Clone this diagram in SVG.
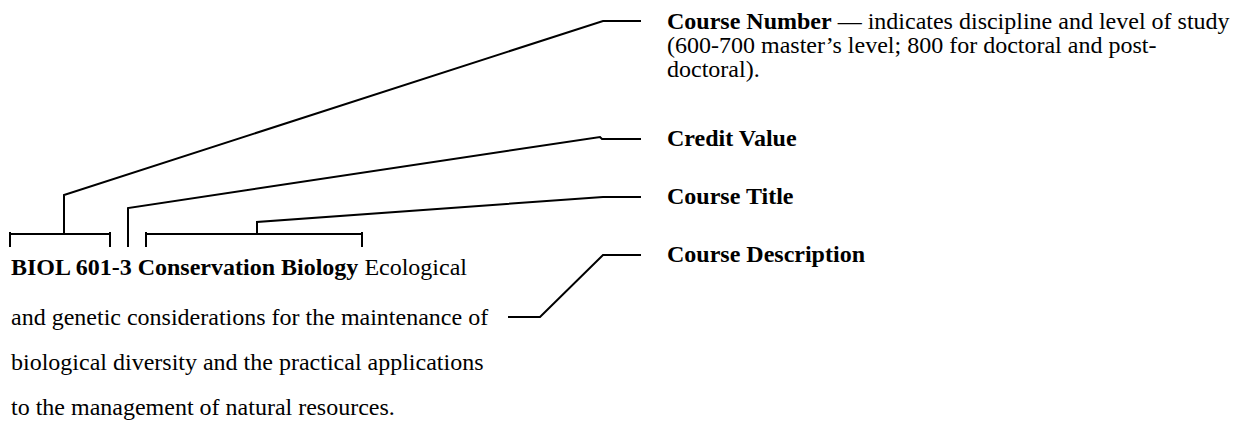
<svg xmlns="http://www.w3.org/2000/svg" width="1241" height="421" viewBox="0 0 1241 421">
<style>
.t{font-family:"Liberation Serif","Times New Roman",serif;font-size:24px;fill:#000}
.b{font-weight:bold}
.ln{fill:none;stroke:#000;stroke-width:2;stroke-linejoin:miter}
</style>
<rect width="1241" height="421" fill="#fff"/>
<g id="connectors">
<polyline class="ln" points="641,21 603,21 64,195 64,234"/>
<polyline class="ln" points="10,234 110,234"/>
<polyline class="ln" points="10,232 10,247"/>
<polyline class="ln" points="110,232 110,247"/>
<polyline class="ln" points="641,139 602,139 600,137 128,208 128,247"/>
<polyline class="ln" points="641,197 603,197 257,222 257,234"/>
<polyline class="ln" points="146,234 362,234"/>
<polyline class="ln" points="146,232 146,247"/>
<polyline class="ln" points="362,232 362,247"/>
<polyline class="ln" points="641,255 603,255 540,317 508,317"/>
</g>
<g id="entry">
<text class="t" x="11" y="275"><tspan class="b">BIOL 601-3 Conservation Biology</tspan> Ecological</text>
<text class="t" x="11" y="325">and genetic considerations for the maintenance of</text>
<text class="t" x="11" y="370">biological diversity and the practical applications</text>
<text class="t" x="11" y="415">to the management of natural resources.</text>
</g>
<g id="course-number">
<text class="t" x="667" y="29"><tspan class="b">Course Number</tspan> — indicates discipline and level of study</text>
<text class="t" x="667" y="53">(600-700 master’s level; 800 for doctoral and post-</text>
<text class="t" x="667" y="77">doctoral).</text>
</g>
<g id="credit-value">
<text class="t b" x="667" y="146">Credit Value</text>
</g>
<g id="course-title">
<text class="t b" x="667" y="204">Course Title</text>
</g>
<g id="course-description">
<text class="t b" x="667" y="262">Course Description</text>
</g>
</svg>
